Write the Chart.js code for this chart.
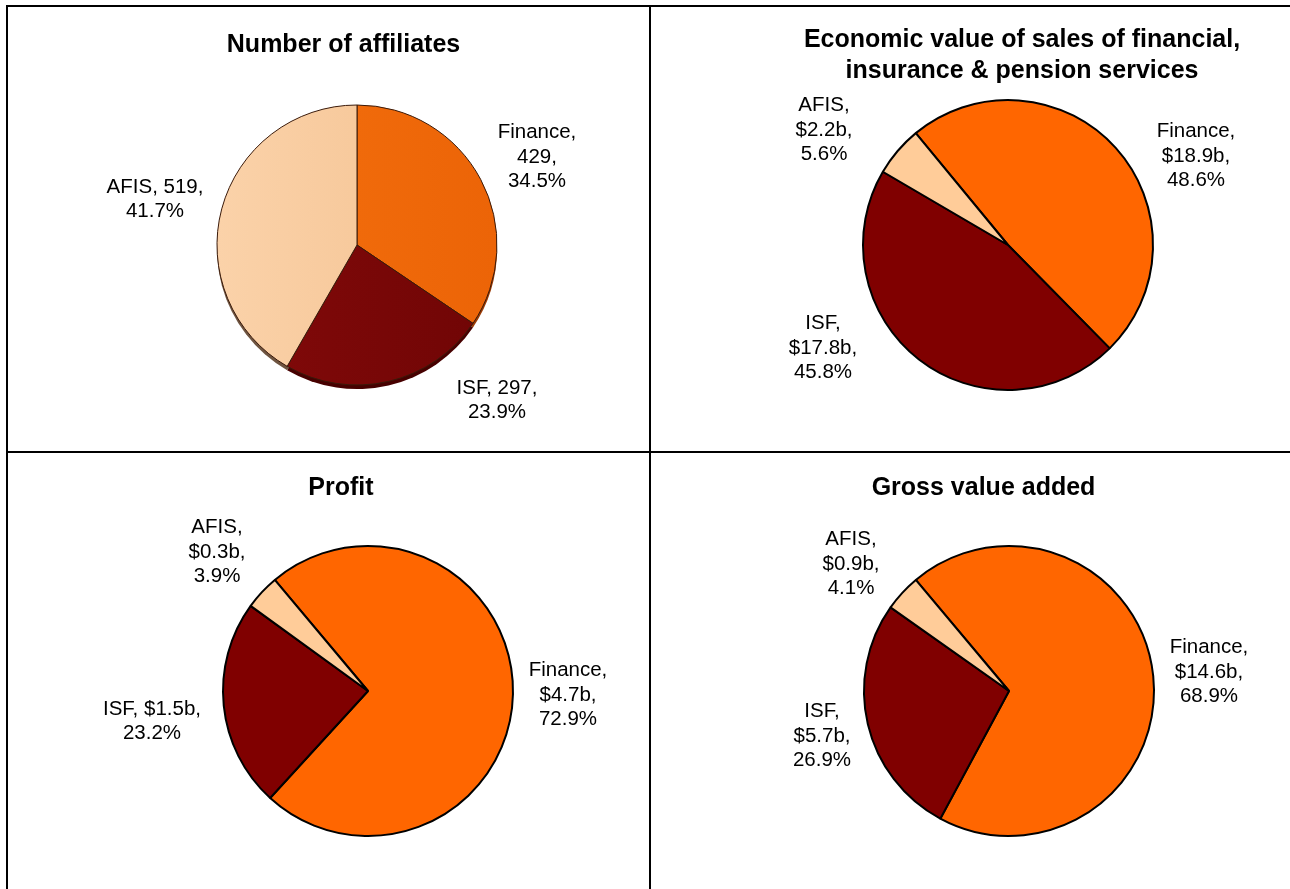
<!DOCTYPE html>
<html>
<head>
<meta charset="utf-8">
<title>Affiliates, sales, profit and gross value added by sector</title>
<script src="https://cdn.jsdelivr.net/npm/chart.js@4.4.1/dist/chart.umd.min.js"></script>
<style>
  html, body { margin: 0; padding: 0; background: #ffffff; }
  #page { position: relative; width: 1290px; height: 889px; overflow: hidden; background: #ffffff; }
  .rule { position: absolute; background: #000000; }
  canvas { position: absolute; }
</style>
</head>
<body>
<div id="page">
  <div class="rule" style="left:6px; top:5px; width:2px; height:884px;"></div>
  <div class="rule" style="left:6px; top:5px; width:1284px; height:2px;"></div>
  <div class="rule" style="left:649px; top:5px; width:2px; height:884px;"></div>
  <div class="rule" style="left:6px; top:451px; width:1284px; height:2px;"></div>
  <canvas id="chart-affiliates"></canvas>
  <canvas id="chart-sales"></canvas>
  <canvas id="chart-profit"></canvas>
  <canvas id="chart-gva"></canvas>
</div>

<script>
// ---- data -------------------------------------------------------------
const sectors = ['Finance', 'ISF', 'AFIS'];

const affiliateCounts = [429, 297, 519];
const affiliateShares = [34.5, 23.9, 41.7];

const salesValues = [18.9, 17.8, 2.2];      // $ billion
const salesShares = [48.6, 45.8, 5.6];

const profitValues = [4.7, 1.5, 0.3];       // $ billion
const profitShares = [72.9, 23.2, 3.9];

const gvaValues = [14.6, 5.7, 0.9];         // $ billion
const gvaShares = [68.9, 26.9, 4.1];

const affiliatesTitle = ['Number of affiliates'];
const salesTitle = ['Economic value of sales of financial,', 'insurance & pension services'];
const profitTitle = ['Profit'];
const gvaTitle = ['Gross value added'];

// ---- styling ----------------------------------------------------------
const FONT = '"Liberation Sans", Arial, Helvetica, sans-serif';
const TITLE_SIZE = 25;
const TITLE_LINE = 30.7;
const LABEL_SIZE = 20.5;
const LABEL_LINE = 24.3;

const flatFill = ['#FF6600', '#800000', '#FFCC99'];
const shadedFill = [['#F4700E', '#EC6407'], ['#830A0A', '#700505'], ['#FBD2A9', '#F3C190']];
const depthFill = ['#9A3A05', '#470000', '#6E5440'];

const money = v => '$' + v.toFixed(1) + 'b';
const count = v => String(v);

// ---- plugins ----------------------------------------------------------
// Empty layout box that pushes the plot area sideways from the title centre.
const sideSpacer = {
  id: 'sideSpacer',
  beforeInit(chart, args, opts) {
    const box = {
      position: opts.side || 'left',
      weight: 0,
      fullSize: false,
      options: {},
      width: 0, height: 0, left: 0, top: 0, right: 0, bottom: 0,
      isHorizontal() { return false; },
      update(maxWidth, maxHeight) { this.width = opts.size || 0; this.height = maxHeight; },
      draw() {}
    };
    Chart.layouts.addBox(chart, box);
  }
};

// Darker rim under the pie for the raised look.
const pieDepth = {
  id: 'pieDepth',
  beforeDatasetsDraw(chart, args, opts) {
    if (!opts.drop) return;
    const ctx = chart.ctx;
    const meta = chart.getDatasetMeta(0);
    ctx.save();
    meta.data.forEach((arc, i) => {
      ctx.beginPath();
      ctx.moveTo(arc.x, arc.y + opts.drop);
      ctx.arc(arc.x, arc.y + opts.drop, arc.outerRadius, arc.startAngle, arc.endAngle);
      ctx.closePath();
      ctx.fillStyle = opts.colors[i];
      ctx.fill();
    });
    ctx.restore();
  }
};

// "Name, value, share" labels set beside each slice.
const sliceLabels = {
  id: 'sliceLabels',
  afterDatasetsDraw(chart, args, opts) {
    const ctx = chart.ctx;
    const meta = chart.getDatasetMeta(0);
    ctx.save();
    ctx.font = LABEL_SIZE + 'px ' + FONT;
    ctx.fillStyle = '#000000';
    ctx.textAlign = 'center';
    ctx.textBaseline = 'middle';
    meta.data.forEach((arc, i) => {
      const lines = opts.lines[i];
      const at = opts.place[i];
      const x = arc.x + at.dx;
      const y = arc.y + at.dy;
      lines.forEach((ln, k) => {
        ctx.fillText(ln, x, y + (k - (lines.length - 1) / 2) * LABEL_LINE);
      });
    });
    ctx.restore();
  }
};

// ---- helpers ----------------------------------------------------------
function labelLines(values, shares, fmt, joins) {
  return sectors.map((name, i) => {
    const parts = [name + ',', fmt(values[i]) + ',', shares[i].toFixed(1) + '%'];
    return joins[i] ? [parts[0] + ' ' + parts[1], parts[2]] : parts;
  });
}

function shaded(stops, radius) {
  return (c) => {
    const chart = c.chart;
    const a = chart.chartArea;
    const pair = stops[c.dataIndex];
    if (!a) return pair[0];
    const cx = (a.left + a.right) / 2;
    const g = chart.ctx.createLinearGradient(cx - radius, 0, cx + radius, 0);
    g.addColorStop(0, pair[0]);
    g.addColorStop(1, pair[1]);
    return g;
  };
}

// Works out padding so the title and the pie sit where the panel wants them.
function arrange(p) {
  const tx = p.titleX - p.x, ty = p.titleY - p.y;
  const cx = p.cx - p.x, cy = p.cy - p.y;
  let left = 0, right = 0;
  if (2 * tx > p.w) left = 2 * tx - p.w; else right = p.w - 2 * tx;
  const shift = 2 * (cx - tx);
  const top = ty - TITLE_LINE / 2;
  const areaTop = top + TITLE_LINE * p.titleLines;
  const bottom = p.h - (2 * cy - areaTop);
  return {
    padding: { left, right, top, bottom },
    spacer: { side: shift >= 0 ? 'left' : 'right', size: Math.abs(shift) }
  };
}

function drawPanel(id, p, s) {
  const canvas = document.getElementById(id);
  canvas.width = p.w;
  canvas.height = p.h;
  canvas.style.left = p.x + 'px';
  canvas.style.top = p.y + 'px';
  canvas.style.width = p.w + 'px';
  canvas.style.height = p.h + 'px';
  const lay = arrange(Object.assign({ titleLines: s.title.length }, p));
  new Chart(canvas, {
    type: 'pie',
    data: {
      labels: sectors,
      datasets: [{
        data: s.data,
        backgroundColor: s.fill,
        borderColor: s.stroke,
        borderWidth: s.strokeWidth,
        radius: p.r,
        clip: false
      }]
    },
    options: {
      responsive: false,
      animation: false,
      devicePixelRatio: 1,
      rotation: s.rotation,
      radius: p.r,
      layout: { padding: lay.padding },
      events: [],
      plugins: {
        legend: { display: false },
        tooltip: { enabled: false },
        title: {
          display: true,
          text: s.title,
          color: '#000000',
          padding: 0,
          font: { family: FONT, size: TITLE_SIZE, weight: 'bold', lineHeight: TITLE_LINE + 'px' }
        },
        sideSpacer: lay.spacer,
        pieDepth: { drop: s.drop || 0, colors: depthFill },
        sliceLabels: { lines: s.lines, place: s.place }
      }
    },
    plugins: [sideSpacer, pieDepth, sliceLabels]
  });
}

// ---- panels -----------------------------------------------------------
drawPanel('chart-affiliates',
  { x: 8, y: 7, w: 641, h: 444, titleX: 343.5, titleY: 45, cx: 357, cy: 245, r: 140 },
  {
    title: affiliatesTitle,
    data: affiliateCounts,
    rotation: 0,
    fill: shaded(shadedFill, 140),
    stroke: '#3A1A0A',
    strokeWidth: 1,
    drop: 4,
    lines: labelLines(affiliateCounts, affiliateShares, count, [false, true, true]),
    place: [{ dx: 180, dy: -88 }, { dx: 140, dy: 155 }, { dx: -202, dy: -46 }]
  });

drawPanel('chart-sales',
  { x: 651, y: 7, w: 639, h: 444, titleX: 1022, titleY: 40.5, cx: 1008, cy: 245, r: 145 },
  {
    title: salesTitle,
    data: salesShares,
    rotation: -39.5,
    fill: flatFill,
    stroke: '#000000',
    strokeWidth: 2,
    lines: labelLines(salesValues, salesShares, money, [false, false, false]),
    place: [{ dx: 188, dy: -89 }, { dx: -185, dy: 103 }, { dx: -184, dy: -115 }]
  });

drawPanel('chart-profit',
  { x: 8, y: 453, w: 641, h: 436, titleX: 341, titleY: 488.5, cx: 368, cy: 691, r: 145 },
  {
    title: profitTitle,
    data: profitShares,
    rotation: -40,
    fill: flatFill,
    stroke: '#000000',
    strokeWidth: 2,
    lines: labelLines(profitValues, profitShares, money, [false, true, false]),
    place: [{ dx: 200, dy: 4 }, { dx: -216, dy: 30 }, { dx: -151, dy: -139 }]
  });

drawPanel('chart-gva',
  { x: 651, y: 453, w: 639, h: 436, titleX: 983.5, titleY: 488.5, cx: 1009, cy: 691, r: 145 },
  {
    title: gvaTitle,
    data: gvaShares,
    rotation: -40,
    fill: flatFill,
    stroke: '#000000',
    strokeWidth: 2,
    lines: labelLines(gvaValues, gvaShares, money, [false, false, false]),
    place: [{ dx: 200, dy: -19 }, { dx: -187, dy: 45 }, { dx: -158, dy: -127 }]
  });
</script>
</body>
</html>
